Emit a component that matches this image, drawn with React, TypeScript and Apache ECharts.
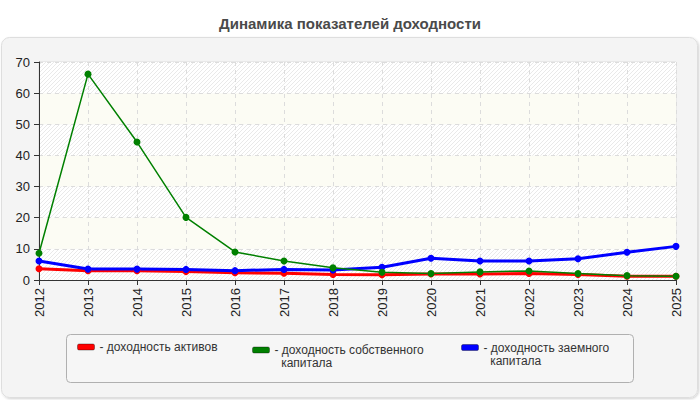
import React, { useEffect, useRef } from 'react';
import * as echarts from 'echarts';

// Исходные данные графика
const years = ['2012', '2013', '2014', '2015', '2016', '2017', '2018', '2019', '2020', '2021', '2022', '2023', '2024', '2025'];
const assetsReturn = [3.6, 3.0, 3.0, 2.7, 2.3, 2.2, 1.8, 1.7, 1.9, 1.9, 2.1, 1.8, 1.2, 1.2];
const equityReturn = [8.6, 66.1, 44.3, 20.1, 9.0, 6.1, 3.9, 2.5, 2.1, 2.6, 2.9, 2.1, 1.4, 1.2];
const debtReturn = [6.1, 3.5, 3.5, 3.4, 3.0, 3.4, 3.2, 4.1, 7.0, 6.1, 6.1, 6.8, 8.9, 10.8];
const yTicks = { min: 0, max: 70, interval: 10 };

const NAME_ASSETS = 'доходность активов';
const NAME_EQUITY = 'доходность собственного капитала';
const NAME_DEBT = 'доходность заемного капитала';

const FONT = 'Liberation Sans, Arial, sans-serif';

// штриховка для полос фона
const makeHatch = (): string => {
  const c = document.createElement('canvas');
  c.width = 4;
  c.height = 4;
  const ctx = c.getContext('2d');
  if (!ctx) return '#f7f7f7';
  ctx.fillStyle = '#ffffff';
  ctx.fillRect(0, 0, 4, 4);
  ctx.fillStyle = '#e9e9e9';
  for (let i = 0; i < 4; i++) ctx.fillRect(i, 3 - i, 1, 1);
  return c.toDataURL();
};

const App: React.FC = () => {
  const chartRef = useRef<HTMLDivElement>(null);

  useEffect(() => {
    if (!chartRef.current) return;
    const chart = echarts.init(chartRef.current, null, { renderer: 'svg' });

    const hatch = { image: makeHatch(), repeat: 'repeat' };

    const legendText = {
      color: '#333',
      fontFamily: FONT,
      fontSize: 12,
      lineHeight: 13,
    };

    const legendBase = {
      padding: 0,
      icon: 'roundRect',
      itemWidth: 17,
      itemHeight: 6,
      itemStyle: { borderColor: 'rgba(0,0,0,0.35)', borderWidth: 1 },
      textStyle: legendText,
    };

    const option: any = {
      animation: false,
      backgroundColor: '#ffffff',
      title: {
        text: 'Динамика показателей доходности',
        left: 'center',
        top: 11,
        textStyle: { color: '#4a4a4a', fontSize: 15, fontWeight: 'bold', fontFamily: FONT },
      },
      graphic: [
        {
          type: 'rect',
          z: -10,
          shape: { x: 1.5, y: 37.5, width: 696, height: 360, r: 8 },
          style: {
            fill: '#f4f4f4',
            stroke: '#dedede',
            lineWidth: 1,
            shadowColor: 'rgba(0,0,0,0.18)',
            shadowBlur: 2,
            shadowOffsetX: 1,
            shadowOffsetY: 1,
          },
        },
        {
          type: 'rect',
          z: -5,
          shape: { x: 66.5, y: 334.5, width: 567, height: 48, r: 4 },
          style: { fill: '#f6f6f6', stroke: '#b0b0b0', lineWidth: 1 },
        },
      ],
      legend: [
        {
          ...legendBase,
          data: [NAME_ASSETS],
          left: 77,
          top: 340.5,
          formatter: () => '- доходность активов',
        },
        {
          ...legendBase,
          data: [NAME_EQUITY],
          left: 252,
          top: 330.5,
          // пустая первая строка, чтобы значок стоял на уровне первой строки подписи
          formatter: () => ' \n- доходность собственного\n  капитала',
        },
        {
          ...legendBase,
          data: [NAME_DEBT],
          left: 461,
          top: 328,
          formatter: () => ' \n- доходность заемного\n  капитала',
        },
      ],
      grid: {
        left: 39,
        right: 24,
        top: 62,
        bottom: 120,
        show: true,
        backgroundColor: 'transparent',
        borderColor: '#dddddd',
        borderWidth: 1,
      },
      xAxis: {
        type: 'category',
        data: years,
        boundaryGap: false,
        axisLine: { lineStyle: { color: '#333', width: 1 } },
        axisTick: { show: true, length: 5, lineStyle: { color: '#333' } },
        axisLabel: {
          rotate: 90,
          margin: 8,
          color: '#222',
          fontSize: 13,
          fontFamily: FONT,
        },
        splitLine: { show: true, lineStyle: { color: '#dcdcdc', type: [4, 4] } },
      },
      yAxis: {
        type: 'value',
        min: yTicks.min,
        max: yTicks.max,
        interval: yTicks.interval,
        axisLine: { show: true, lineStyle: { color: '#333', width: 1 } },
        axisTick: { show: true, length: 5, lineStyle: { color: '#333' } },
        axisLabel: { margin: 9, color: '#222', fontSize: 13, fontFamily: FONT },
        splitLine: { show: true, lineStyle: { color: '#dcdcdc', type: [4, 4] } },
        splitArea: {
          show: true,
          areaStyle: { color: [hatch, '#fcfcf4'] },
        },
      },
      series: [
        {
          name: NAME_ASSETS,
          type: 'line',
          data: assetsReturn,
          color: '#ff0000',
          symbol: 'circle',
          symbolSize: 7,
          lineStyle: { width: 3 },
        },
        {
          name: NAME_DEBT,
          type: 'line',
          data: debtReturn,
          color: '#0000ff',
          symbol: 'circle',
          symbolSize: 7,
          lineStyle: { width: 3 },
        },
        {
          name: NAME_EQUITY,
          type: 'line',
          data: equityReturn,
          color: '#008000',
          symbol: 'circle',
          symbolSize: 7,
          lineStyle: { width: 1.5 },
        },
      ],
    };

    chart.setOption(option);

    return () => {
      chart.dispose();
    };
  }, []);

  return (
    <div
      ref={chartRef}
      style={{ position: 'absolute', left: 0, top: 0, width: '700px', height: '400px' }}
    />
  );
};

export default App;
